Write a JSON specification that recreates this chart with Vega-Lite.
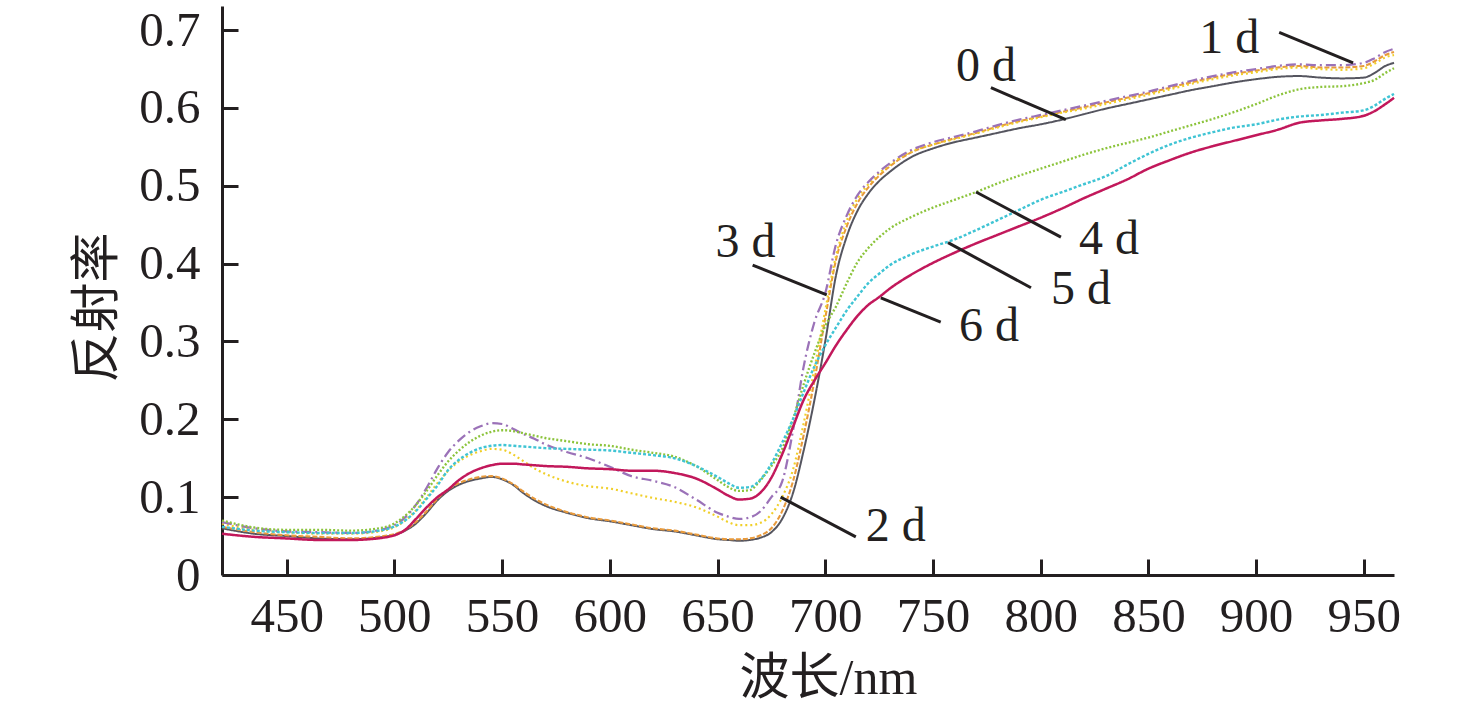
{
"$schema": "https://vega.github.io/schema/vega-lite/v6.json",
"width": 1172, "height": 569,
"autosize": {"type": "none"},
"padding": {"left": 222, "top": 6, "right": 82, "bottom": 138},
"background": "white",
"config": {
 "view": {"stroke": null},
 "axis": {"grid": false, "domainColor": "#231f20", "domainWidth": 3, "tickColor": "#231f20", "tickWidth": 3, "tickSize": -16,
  "labelFont": "Liberation Serif", "labelFontSize": 49, "labelColor": "#231f20",
  "titleFont": "Liberation Serif, Noto Sans CJK SC", "titleFontSize": 50, "titleFontWeight": "normal", "titleColor": "#231f20"}
},
"datasets": {
"ann": [
 {"s": "0 d", "tx": 774.6, "ty": 0.652, "x1": 776.9, "y1": 0.626, "x2": 811.7, "y2": 0.585},
 {"s": "1 d", "tx": 887.5, "ty": 0.688, "x1": 910.7, "y1": 0.697, "x2": 945.0, "y2": 0.658},
 {"s": "2 d", "tx": 732.7, "ty": 0.062, "x1": 679.3, "y1": 0.100, "x2": 714.2, "y2": 0.049},
 {"s": "3 d", "tx": 663.0, "ty": 0.427, "x1": 666.3, "y1": 0.398, "x2": 700.7, "y2": 0.360},
 {"s": "4 d", "tx": 831.7, "ty": 0.431, "x1": 770.0, "y1": 0.492, "x2": 809.4, "y2": 0.434},
 {"s": "5 d", "tx": 818.7, "ty": 0.366, "x1": 757.0, "y1": 0.427, "x2": 795.5, "y2": 0.369},
 {"s": "6 d", "tx": 776.0, "ty": 0.319, "x1": 725.8, "y1": 0.356, "x2": 753.6, "y2": 0.325}
],
"spec": [
{"w":420,"s":"0 d","r":0.060},{"w":435,"s":"0 d","r":0.053},{"w":450,"s":"0 d","r":0.050},{"w":465,"s":"0 d","r":0.047},{"w":480,"s":"0 d","r":0.046},{"w":495,"s":"0 d","r":0.049},{"w":505,"s":"0 d","r":0.057},{"w":510,"s":"0 d","r":0.066},{"w":515,"s":"0 d","r":0.080},{"w":520,"s":"0 d","r":0.096},{"w":525,"s":"0 d","r":0.108},{"w":530,"s":"0 d","r":0.116},{"w":535,"s":"0 d","r":0.121},{"w":540,"s":"0 d","r":0.124},{"w":545,"s":"0 d","r":0.126},{"w":550,"s":"0 d","r":0.123},{"w":555,"s":"0 d","r":0.116},{"w":560,"s":"0 d","r":0.105},{"w":565,"s":"0 d","r":0.096},{"w":570,"s":"0 d","r":0.089},{"w":580,"s":"0 d","r":0.080},{"w":590,"s":"0 d","r":0.073},{"w":600,"s":"0 d","r":0.069},{"w":610,"s":"0 d","r":0.064},{"w":620,"s":"0 d","r":0.059},{"w":630,"s":"0 d","r":0.056},{"w":640,"s":"0 d","r":0.051},{"w":650,"s":"0 d","r":0.046},{"w":655,"s":"0 d","r":0.045},{"w":660,"s":"0 d","r":0.044},{"w":665,"s":"0 d","r":0.045},{"w":670,"s":"0 d","r":0.048},{"w":675,"s":"0 d","r":0.055},{"w":680,"s":"0 d","r":0.072},{"w":685,"s":"0 d","r":0.105},{"w":690,"s":"0 d","r":0.160},{"w":695,"s":"0 d","r":0.225},{"w":700,"s":"0 d","r":0.300},{"w":705,"s":"0 d","r":0.385},{"w":710,"s":"0 d","r":0.435},{"w":715,"s":"0 d","r":0.468},{"w":720,"s":"0 d","r":0.490},{"w":725,"s":"0 d","r":0.506},{"w":730,"s":"0 d","r":0.518},{"w":740,"s":"0 d","r":0.537},{"w":750,"s":"0 d","r":0.548},{"w":760,"s":"0 d","r":0.556},{"w":770,"s":"0 d","r":0.562},{"w":780,"s":"0 d","r":0.568},{"w":790,"s":"0 d","r":0.574},{"w":800,"s":"0 d","r":0.579},{"w":810,"s":"0 d","r":0.585},{"w":820,"s":"0 d","r":0.592},{"w":830,"s":"0 d","r":0.599},{"w":840,"s":"0 d","r":0.605},{"w":850,"s":"0 d","r":0.611},{"w":860,"s":"0 d","r":0.617},{"w":870,"s":"0 d","r":0.623},{"w":880,"s":"0 d","r":0.628},{"w":890,"s":"0 d","r":0.633},{"w":900,"s":"0 d","r":0.637},{"w":910,"s":"0 d","r":0.640},{"w":920,"s":"0 d","r":0.641},{"w":930,"s":"0 d","r":0.639},{"w":940,"s":"0 d","r":0.638},{"w":950,"s":"0 d","r":0.639},{"w":955,"s":"0 d","r":0.645},{"w":960,"s":"0 d","r":0.654},{"w":964,"s":"0 d","r":0.658},
{"w":420,"s":"1 d","r":0.062},{"w":435,"s":"1 d","r":0.055},{"w":450,"s":"1 d","r":0.051},{"w":465,"s":"1 d","r":0.049},{"w":480,"s":"1 d","r":0.047},{"w":495,"s":"1 d","r":0.050},{"w":505,"s":"1 d","r":0.058},{"w":510,"s":"1 d","r":0.068},{"w":515,"s":"1 d","r":0.082},{"w":520,"s":"1 d","r":0.098},{"w":525,"s":"1 d","r":0.110},{"w":530,"s":"1 d","r":0.118},{"w":535,"s":"1 d","r":0.123},{"w":540,"s":"1 d","r":0.126},{"w":545,"s":"1 d","r":0.127},{"w":550,"s":"1 d","r":0.124},{"w":555,"s":"1 d","r":0.117},{"w":560,"s":"1 d","r":0.107},{"w":565,"s":"1 d","r":0.098},{"w":570,"s":"1 d","r":0.091},{"w":580,"s":"1 d","r":0.081},{"w":590,"s":"1 d","r":0.074},{"w":600,"s":"1 d","r":0.070},{"w":610,"s":"1 d","r":0.065},{"w":620,"s":"1 d","r":0.060},{"w":630,"s":"1 d","r":0.057},{"w":640,"s":"1 d","r":0.052},{"w":650,"s":"1 d","r":0.047},{"w":655,"s":"1 d","r":0.046},{"w":660,"s":"1 d","r":0.046},{"w":665,"s":"1 d","r":0.047},{"w":670,"s":"1 d","r":0.051},{"w":675,"s":"1 d","r":0.060},{"w":680,"s":"1 d","r":0.082},{"w":685,"s":"1 d","r":0.120},{"w":690,"s":"1 d","r":0.180},{"w":695,"s":"1 d","r":0.250},{"w":700,"s":"1 d","r":0.330},{"w":705,"s":"1 d","r":0.405},{"w":710,"s":"1 d","r":0.448},{"w":715,"s":"1 d","r":0.478},{"w":720,"s":"1 d","r":0.498},{"w":725,"s":"1 d","r":0.513},{"w":730,"s":"1 d","r":0.525},{"w":740,"s":"1 d","r":0.543},{"w":750,"s":"1 d","r":0.553},{"w":760,"s":"1 d","r":0.561},{"w":770,"s":"1 d","r":0.568},{"w":780,"s":"1 d","r":0.576},{"w":790,"s":"1 d","r":0.583},{"w":800,"s":"1 d","r":0.589},{"w":810,"s":"1 d","r":0.595},{"w":820,"s":"1 d","r":0.601},{"w":830,"s":"1 d","r":0.607},{"w":840,"s":"1 d","r":0.613},{"w":850,"s":"1 d","r":0.619},{"w":860,"s":"1 d","r":0.626},{"w":870,"s":"1 d","r":0.633},{"w":880,"s":"1 d","r":0.639},{"w":890,"s":"1 d","r":0.644},{"w":900,"s":"1 d","r":0.648},{"w":910,"s":"1 d","r":0.652},{"w":920,"s":"1 d","r":0.654},{"w":930,"s":"1 d","r":0.652},{"w":940,"s":"1 d","r":0.652},{"w":950,"s":"1 d","r":0.654},{"w":955,"s":"1 d","r":0.660},{"w":960,"s":"1 d","r":0.668},{"w":964,"s":"1 d","r":0.672},
{"w":420,"s":"2 d","r":0.066},{"w":435,"s":"2 d","r":0.058},{"w":450,"s":"2 d","r":0.055},{"w":465,"s":"2 d","r":0.053},{"w":480,"s":"2 d","r":0.053},{"w":495,"s":"2 d","r":0.057},{"w":505,"s":"2 d","r":0.070},{"w":510,"s":"2 d","r":0.083},{"w":515,"s":"2 d","r":0.100},{"w":520,"s":"2 d","r":0.118},{"w":525,"s":"2 d","r":0.134},{"w":530,"s":"2 d","r":0.146},{"w":535,"s":"2 d","r":0.154},{"w":540,"s":"2 d","r":0.159},{"w":545,"s":"2 d","r":0.162},{"w":550,"s":"2 d","r":0.161},{"w":555,"s":"2 d","r":0.155},{"w":560,"s":"2 d","r":0.146},{"w":565,"s":"2 d","r":0.137},{"w":570,"s":"2 d","r":0.130},{"w":580,"s":"2 d","r":0.120},{"w":590,"s":"2 d","r":0.114},{"w":600,"s":"2 d","r":0.111},{"w":610,"s":"2 d","r":0.105},{"w":620,"s":"2 d","r":0.099},{"w":630,"s":"2 d","r":0.094},{"w":640,"s":"2 d","r":0.087},{"w":650,"s":"2 d","r":0.075},{"w":655,"s":"2 d","r":0.068},{"w":660,"s":"2 d","r":0.064},{"w":665,"s":"2 d","r":0.064},{"w":670,"s":"2 d","r":0.067},{"w":675,"s":"2 d","r":0.078},{"w":680,"s":"2 d","r":0.100},{"w":685,"s":"2 d","r":0.135},{"w":690,"s":"2 d","r":0.195},{"w":695,"s":"2 d","r":0.265},{"w":700,"s":"2 d","r":0.340},{"w":705,"s":"2 d","r":0.410},{"w":710,"s":"2 d","r":0.455},{"w":715,"s":"2 d","r":0.484},{"w":720,"s":"2 d","r":0.502},{"w":725,"s":"2 d","r":0.516},{"w":730,"s":"2 d","r":0.527},{"w":740,"s":"2 d","r":0.544},{"w":750,"s":"2 d","r":0.553},{"w":760,"s":"2 d","r":0.560},{"w":770,"s":"2 d","r":0.567},{"w":780,"s":"2 d","r":0.575},{"w":790,"s":"2 d","r":0.582},{"w":800,"s":"2 d","r":0.588},{"w":810,"s":"2 d","r":0.594},{"w":820,"s":"2 d","r":0.599},{"w":830,"s":"2 d","r":0.605},{"w":840,"s":"2 d","r":0.611},{"w":850,"s":"2 d","r":0.617},{"w":860,"s":"2 d","r":0.624},{"w":870,"s":"2 d","r":0.631},{"w":880,"s":"2 d","r":0.637},{"w":890,"s":"2 d","r":0.642},{"w":900,"s":"2 d","r":0.646},{"w":910,"s":"2 d","r":0.650},{"w":920,"s":"2 d","r":0.652},{"w":930,"s":"2 d","r":0.650},{"w":940,"s":"2 d","r":0.649},{"w":950,"s":"2 d","r":0.651},{"w":955,"s":"2 d","r":0.657},{"w":960,"s":"2 d","r":0.665},{"w":964,"s":"2 d","r":0.668},
{"w":420,"s":"3 d","r":0.068},{"w":435,"s":"3 d","r":0.060},{"w":450,"s":"3 d","r":0.056},{"w":465,"s":"3 d","r":0.055},{"w":480,"s":"3 d","r":0.054},{"w":495,"s":"3 d","r":0.059},{"w":505,"s":"3 d","r":0.074},{"w":510,"s":"3 d","r":0.090},{"w":515,"s":"3 d","r":0.112},{"w":520,"s":"3 d","r":0.137},{"w":525,"s":"3 d","r":0.158},{"w":530,"s":"3 d","r":0.173},{"w":535,"s":"3 d","r":0.184},{"w":540,"s":"3 d","r":0.191},{"w":545,"s":"3 d","r":0.195},{"w":550,"s":"3 d","r":0.194},{"w":555,"s":"3 d","r":0.188},{"w":560,"s":"3 d","r":0.181},{"w":565,"s":"3 d","r":0.175},{"w":570,"s":"3 d","r":0.168},{"w":580,"s":"3 d","r":0.158},{"w":590,"s":"3 d","r":0.150},{"w":600,"s":"3 d","r":0.139},{"w":610,"s":"3 d","r":0.127},{"w":620,"s":"3 d","r":0.121},{"w":630,"s":"3 d","r":0.113},{"w":640,"s":"3 d","r":0.097},{"w":650,"s":"3 d","r":0.080},{"w":655,"s":"3 d","r":0.075},{"w":660,"s":"3 d","r":0.072},{"w":665,"s":"3 d","r":0.074},{"w":670,"s":"3 d","r":0.082},{"w":675,"s":"3 d","r":0.100},{"w":680,"s":"3 d","r":0.120},{"w":685,"s":"3 d","r":0.185},{"w":690,"s":"3 d","r":0.268},{"w":695,"s":"3 d","r":0.325},{"w":700,"s":"3 d","r":0.362},{"w":705,"s":"3 d","r":0.425},{"w":710,"s":"3 d","r":0.462},{"w":715,"s":"3 d","r":0.488},{"w":720,"s":"3 d","r":0.505},{"w":725,"s":"3 d","r":0.518},{"w":730,"s":"3 d","r":0.529},{"w":740,"s":"3 d","r":0.546},{"w":750,"s":"3 d","r":0.556},{"w":760,"s":"3 d","r":0.563},{"w":770,"s":"3 d","r":0.570},{"w":780,"s":"3 d","r":0.578},{"w":790,"s":"3 d","r":0.585},{"w":800,"s":"3 d","r":0.591},{"w":810,"s":"3 d","r":0.597},{"w":820,"s":"3 d","r":0.603},{"w":830,"s":"3 d","r":0.609},{"w":840,"s":"3 d","r":0.615},{"w":850,"s":"3 d","r":0.621},{"w":860,"s":"3 d","r":0.628},{"w":870,"s":"3 d","r":0.635},{"w":880,"s":"3 d","r":0.641},{"w":890,"s":"3 d","r":0.646},{"w":900,"s":"3 d","r":0.650},{"w":910,"s":"3 d","r":0.654},{"w":920,"s":"3 d","r":0.656},{"w":930,"s":"3 d","r":0.655},{"w":940,"s":"3 d","r":0.655},{"w":950,"s":"3 d","r":0.658},{"w":955,"s":"3 d","r":0.664},{"w":960,"s":"3 d","r":0.672},{"w":964,"s":"3 d","r":0.676},
{"w":420,"s":"4 d","r":0.070},{"w":435,"s":"4 d","r":0.061},{"w":450,"s":"4 d","r":0.058},{"w":465,"s":"4 d","r":0.058},{"w":480,"s":"4 d","r":0.057},{"w":495,"s":"4 d","r":0.061},{"w":505,"s":"4 d","r":0.076},{"w":510,"s":"4 d","r":0.090},{"w":515,"s":"4 d","r":0.108},{"w":520,"s":"4 d","r":0.128},{"w":525,"s":"4 d","r":0.146},{"w":530,"s":"4 d","r":0.160},{"w":535,"s":"4 d","r":0.171},{"w":540,"s":"4 d","r":0.179},{"w":545,"s":"4 d","r":0.184},{"w":550,"s":"4 d","r":0.186},{"w":555,"s":"4 d","r":0.185},{"w":560,"s":"4 d","r":0.182},{"w":565,"s":"4 d","r":0.179},{"w":570,"s":"4 d","r":0.176},{"w":580,"s":"4 d","r":0.172},{"w":590,"s":"4 d","r":0.168},{"w":600,"s":"4 d","r":0.166},{"w":610,"s":"4 d","r":0.161},{"w":620,"s":"4 d","r":0.157},{"w":630,"s":"4 d","r":0.152},{"w":640,"s":"4 d","r":0.140},{"w":650,"s":"4 d","r":0.122},{"w":655,"s":"4 d","r":0.113},{"w":660,"s":"4 d","r":0.108},{"w":665,"s":"4 d","r":0.109},{"w":670,"s":"4 d","r":0.122},{"w":675,"s":"4 d","r":0.140},{"w":680,"s":"4 d","r":0.162},{"w":685,"s":"4 d","r":0.200},{"w":690,"s":"4 d","r":0.245},{"w":695,"s":"4 d","r":0.285},{"w":700,"s":"4 d","r":0.320},{"w":705,"s":"4 d","r":0.345},{"w":710,"s":"4 d","r":0.375},{"w":715,"s":"4 d","r":0.402},{"w":720,"s":"4 d","r":0.420},{"w":725,"s":"4 d","r":0.434},{"w":730,"s":"4 d","r":0.445},{"w":740,"s":"4 d","r":0.460},{"w":750,"s":"4 d","r":0.472},{"w":760,"s":"4 d","r":0.482},{"w":770,"s":"4 d","r":0.492},{"w":780,"s":"4 d","r":0.503},{"w":790,"s":"4 d","r":0.513},{"w":800,"s":"4 d","r":0.522},{"w":810,"s":"4 d","r":0.531},{"w":820,"s":"4 d","r":0.540},{"w":830,"s":"4 d","r":0.548},{"w":840,"s":"4 d","r":0.555},{"w":850,"s":"4 d","r":0.562},{"w":860,"s":"4 d","r":0.570},{"w":870,"s":"4 d","r":0.578},{"w":880,"s":"4 d","r":0.586},{"w":890,"s":"4 d","r":0.595},{"w":900,"s":"4 d","r":0.605},{"w":910,"s":"4 d","r":0.616},{"w":920,"s":"4 d","r":0.624},{"w":930,"s":"4 d","r":0.627},{"w":940,"s":"4 d","r":0.628},{"w":950,"s":"4 d","r":0.632},{"w":955,"s":"4 d","r":0.636},{"w":960,"s":"4 d","r":0.645},{"w":964,"s":"4 d","r":0.651},
{"w":420,"s":"5 d","r":0.062},{"w":435,"s":"5 d","r":0.057},{"w":450,"s":"5 d","r":0.055},{"w":465,"s":"5 d","r":0.054},{"w":480,"s":"5 d","r":0.054},{"w":495,"s":"5 d","r":0.058},{"w":505,"s":"5 d","r":0.070},{"w":510,"s":"5 d","r":0.082},{"w":515,"s":"5 d","r":0.098},{"w":520,"s":"5 d","r":0.115},{"w":525,"s":"5 d","r":0.135},{"w":530,"s":"5 d","r":0.148},{"w":535,"s":"5 d","r":0.157},{"w":540,"s":"5 d","r":0.163},{"w":545,"s":"5 d","r":0.166},{"w":550,"s":"5 d","r":0.167},{"w":555,"s":"5 d","r":0.166},{"w":560,"s":"5 d","r":0.165},{"w":565,"s":"5 d","r":0.164},{"w":570,"s":"5 d","r":0.163},{"w":580,"s":"5 d","r":0.162},{"w":590,"s":"5 d","r":0.161},{"w":600,"s":"5 d","r":0.160},{"w":610,"s":"5 d","r":0.157},{"w":620,"s":"5 d","r":0.154},{"w":630,"s":"5 d","r":0.150},{"w":640,"s":"5 d","r":0.140},{"w":650,"s":"5 d","r":0.126},{"w":655,"s":"5 d","r":0.118},{"w":660,"s":"5 d","r":0.112},{"w":665,"s":"5 d","r":0.113},{"w":670,"s":"5 d","r":0.123},{"w":675,"s":"5 d","r":0.143},{"w":680,"s":"5 d","r":0.170},{"w":685,"s":"5 d","r":0.200},{"w":690,"s":"5 d","r":0.235},{"w":695,"s":"5 d","r":0.268},{"w":700,"s":"5 d","r":0.295},{"w":705,"s":"5 d","r":0.318},{"w":710,"s":"5 d","r":0.340},{"w":715,"s":"5 d","r":0.358},{"w":720,"s":"5 d","r":0.375},{"w":725,"s":"5 d","r":0.387},{"w":730,"s":"5 d","r":0.398},{"w":740,"s":"5 d","r":0.412},{"w":750,"s":"5 d","r":0.422},{"w":760,"s":"5 d","r":0.431},{"w":770,"s":"5 d","r":0.443},{"w":780,"s":"5 d","r":0.456},{"w":790,"s":"5 d","r":0.469},{"w":800,"s":"5 d","r":0.482},{"w":810,"s":"5 d","r":0.492},{"w":820,"s":"5 d","r":0.502},{"w":830,"s":"5 d","r":0.512},{"w":840,"s":"5 d","r":0.527},{"w":850,"s":"5 d","r":0.541},{"w":860,"s":"5 d","r":0.553},{"w":870,"s":"5 d","r":0.562},{"w":880,"s":"5 d","r":0.569},{"w":890,"s":"5 d","r":0.575},{"w":900,"s":"5 d","r":0.579},{"w":910,"s":"5 d","r":0.585},{"w":920,"s":"5 d","r":0.589},{"w":930,"s":"5 d","r":0.591},{"w":940,"s":"5 d","r":0.594},{"w":950,"s":"5 d","r":0.597},{"w":955,"s":"5 d","r":0.603},{"w":960,"s":"5 d","r":0.612},{"w":964,"s":"5 d","r":0.618},
{"w":420,"s":"6 d","r":0.053},{"w":435,"s":"6 d","r":0.049},{"w":450,"s":"6 d","r":0.047},{"w":465,"s":"6 d","r":0.045},{"w":480,"s":"6 d","r":0.045},{"w":495,"s":"6 d","r":0.048},{"w":505,"s":"6 d","r":0.058},{"w":510,"s":"6 d","r":0.072},{"w":515,"s":"6 d","r":0.087},{"w":520,"s":"6 d","r":0.100},{"w":525,"s":"6 d","r":0.110},{"w":530,"s":"6 d","r":0.122},{"w":535,"s":"6 d","r":0.131},{"w":540,"s":"6 d","r":0.137},{"w":545,"s":"6 d","r":0.141},{"w":550,"s":"6 d","r":0.143},{"w":555,"s":"6 d","r":0.143},{"w":560,"s":"6 d","r":0.142},{"w":565,"s":"6 d","r":0.141},{"w":570,"s":"6 d","r":0.140},{"w":580,"s":"6 d","r":0.139},{"w":590,"s":"6 d","r":0.137},{"w":600,"s":"6 d","r":0.136},{"w":610,"s":"6 d","r":0.134},{"w":620,"s":"6 d","r":0.134},{"w":630,"s":"6 d","r":0.131},{"w":640,"s":"6 d","r":0.124},{"w":650,"s":"6 d","r":0.110},{"w":655,"s":"6 d","r":0.102},{"w":660,"s":"6 d","r":0.097},{"w":665,"s":"6 d","r":0.098},{"w":670,"s":"6 d","r":0.106},{"w":675,"s":"6 d","r":0.125},{"w":680,"s":"6 d","r":0.155},{"w":685,"s":"6 d","r":0.190},{"w":690,"s":"6 d","r":0.225},{"w":695,"s":"6 d","r":0.250},{"w":700,"s":"6 d","r":0.272},{"w":705,"s":"6 d","r":0.295},{"w":710,"s":"6 d","r":0.315},{"w":715,"s":"6 d","r":0.333},{"w":720,"s":"6 d","r":0.347},{"w":725,"s":"6 d","r":0.357},{"w":730,"s":"6 d","r":0.368},{"w":740,"s":"6 d","r":0.386},{"w":750,"s":"6 d","r":0.401},{"w":760,"s":"6 d","r":0.414},{"w":770,"s":"6 d","r":0.426},{"w":780,"s":"6 d","r":0.437},{"w":790,"s":"6 d","r":0.448},{"w":800,"s":"6 d","r":0.459},{"w":810,"s":"6 d","r":0.471},{"w":820,"s":"6 d","r":0.484},{"w":830,"s":"6 d","r":0.496},{"w":840,"s":"6 d","r":0.508},{"w":850,"s":"6 d","r":0.522},{"w":860,"s":"6 d","r":0.533},{"w":870,"s":"6 d","r":0.543},{"w":880,"s":"6 d","r":0.551},{"w":890,"s":"6 d","r":0.558},{"w":900,"s":"6 d","r":0.565},{"w":910,"s":"6 d","r":0.572},{"w":920,"s":"6 d","r":0.581},{"w":930,"s":"6 d","r":0.584},{"w":940,"s":"6 d","r":0.586},{"w":950,"s":"6 d","r":0.590},{"w":955,"s":"6 d","r":0.596},{"w":960,"s":"6 d","r":0.605},{"w":964,"s":"6 d","r":0.613}
]
},
"layer": [
 {
  "data": {"name": "spec"},
  "mark": {"type": "line", "interpolate": "monotone"},
  "encoding": {
   "x": {"field": "w", "type": "quantitative", "scale": {"domain": [420, 964], "nice": false, "zero": false},
    "axis": {"values": [450,500,550,600,650,700,750,800,850,900,950], "labelPadding": 33, "title": "波长/nm", "titlePadding": 12, "titleX": 606}},
   "y": {"field": "r", "type": "quantitative", "scale": {"domain": [0, 0.731], "nice": false},
    "axis": {"values": [0,0.1,0.2,0.3,0.4,0.5,0.6,0.7], "format": ".1~f", "labelPadding": 38, "title": "反射率", "titlePadding": 16, "titleY": 301}},
   "color": {"field": "s", "type": "nominal", "legend": null,
    "scale": {"domain": ["0 d","1 d","2 d","3 d","4 d","5 d","6 d"], "range": ["#55555f","#e89a3c","#f0cf28","#9b72b8","#8cc43c","#3fc4d4","#c2185b"]}},
   "strokeDash": {"field": "s", "type": "nominal", "legend": null,
    "scale": {"domain": ["0 d","1 d","2 d","3 d","4 d","5 d","6 d"], "range": [[1,0],[5,2],[2,3],[10,4,2,4],[2,2],[3,2],[1,0]]}},
   "strokeWidth": {"field": "s", "type": "nominal", "legend": null,
    "scale": {"domain": ["0 d","1 d","2 d","3 d","4 d","5 d","6 d"], "range": [2,2.5,3,2,3,2.5,3]}},
   "order": {"field": "w", "type": "quantitative"}
  }
 },
 {
  "data": {"name": "ann"},
  "mark": {"type": "rule", "color": "#231f20", "strokeWidth": 3},
  "encoding": {
   "x": {"field": "x1", "type": "quantitative", "title": "波长/nm"},
   "y": {"field": "y1", "type": "quantitative", "title": "反射率"},
   "x2": {"field": "x2"},
   "y2": {"field": "y2"}
  }
 },
 {
  "data": {"name": "ann"},
  "mark": {"type": "text", "font": "Liberation Serif", "fontSize": 48, "color": "#231f20", "align": "center", "baseline": "middle"},
  "encoding": {
   "x": {"field": "tx", "type": "quantitative", "title": "波长/nm"},
   "y": {"field": "ty", "type": "quantitative", "title": "反射率"},
   "text": {"field": "s", "type": "nominal"}
  }
 }
]
}
